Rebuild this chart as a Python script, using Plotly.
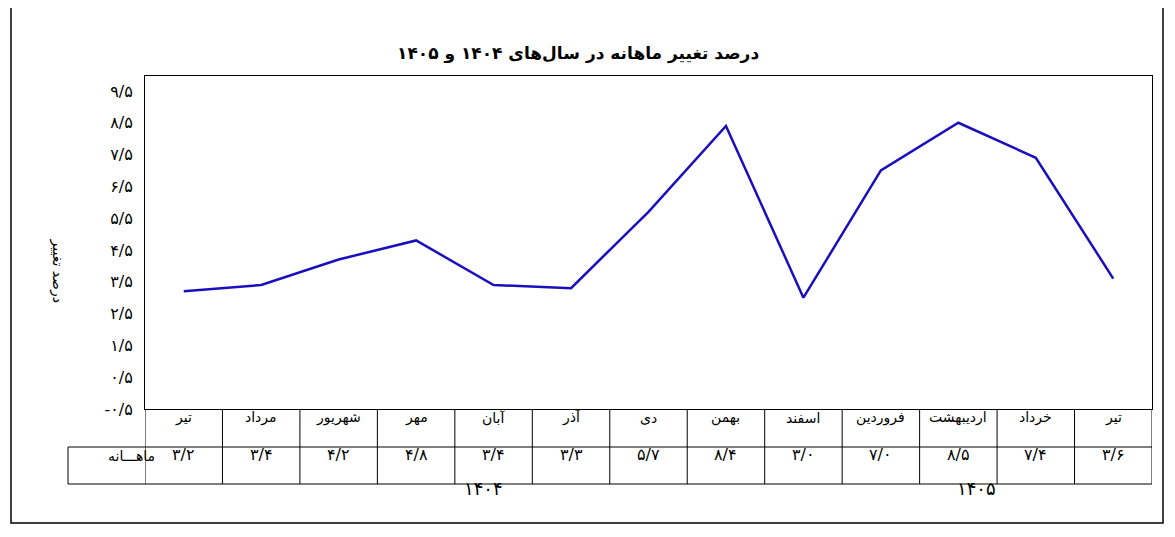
import plotly.graph_objects as go

months = ["تیر", "مرداد", "شهریور", "مهر", "آبان", "آذر", "دی", "بهمن", "اسفند",
          "فروردین", "اردیبهشت", "خرداد", "تیر"]
values = [3.2, 3.4, 4.2, 4.8, 3.4, 3.3, 5.7, 8.4, 3.0, 7.0, 8.5, 7.4, 3.6]
value_labels = ["۳/۲", "۳/۴", "۴/۲", "۴/۸", "۳/۴", "۳/۳", "۵/۷", "۸/۴", "۳/۰",
                "۷/۰", "۸/۵", "۷/۴", "۳/۶"]
tick_vals = [-0.5, 0.5, 1.5, 2.5, 3.5, 4.5, 5.5, 6.5, 7.5, 8.5, 9.5]
tick_text = ["-۰/۵", "۰/۵", "۱/۵", "۲/۵", "۳/۵", "۴/۵", "۵/۵", "۶/۵", "۷/۵", "۸/۵", "۹/۵"]
years = ["۱۴۰۴", "۱۴۰۵"]

W, H = 1175, 537
OX, OY = 8, 7  # page offset seen in render
L, R, T, B = 145 - OX, 1152 - OX, 75 - OY, 408 - OY
FONT = "DejaVu Sans"

def px(x):
    return (x - OX - L) / (R - L)

def py(y):
    return (B - (y - OY)) / (B - T)

xs = list(range(len(months)))
fig = go.Figure(go.Scatter(x=xs, y=values, mode="lines",
                           line=dict(color="#1a0fbf", width=2.5)))

shapes = []
line = dict(color="black", width=1)
shapes.append(dict(type="rect", xref="paper", yref="paper", x0=px(11), x1=px(1163),
                   y0=py(522), y1=py(6), line=dict(color="black", width=1.5)))
shapes.append(dict(type="line", xref="paper", yref="paper", x0=px(68), x1=1,
                   y0=py(446), y1=py(446), line=line))
shapes.append(dict(type="line", xref="paper", yref="paper", x0=px(68), x1=1,
                   y0=py(483), y1=py(483), line=line))
shapes.append(dict(type="line", xref="paper", yref="paper", x0=px(68), x1=px(68),
                   y0=py(446), y1=py(483), line=line))
for i in range(len(months) + 1):
    shapes.append(dict(type="line", xref="x", yref="paper", x0=i - 0.5, x1=i - 0.5,
                       y0=py(483), y1=0, line=line))

ann = []
for i, (m, v) in enumerate(zip(months, value_labels)):
    ann.append(dict(x=i, y=py(427), xref="x", yref="paper", text=m, showarrow=False,
                    font=dict(size=14, family=FONT)))
    ann.append(dict(x=i, y=py(465), xref="x", yref="paper", text=v, showarrow=False,
                    font=dict(size=16, family=FONT)))
ann.append(dict(x=px(106), y=py(465), xref="paper", yref="paper", text="ماهـــانه",
                showarrow=False, font=dict(size=14, family=FONT)))
ann.append(dict(x=px(483), y=py(500), xref="paper", yref="paper", text=years[0],
                showarrow=False, font=dict(size=18, family=FONT)))
ann.append(dict(x=px(998), y=py(500), xref="paper", yref="paper", text=years[1],
                showarrow=False, font=dict(size=18, family=FONT)))
ann.append(dict(x=px(47), y=py(270), xref="paper", yref="paper", text="درصد تغییر",
                textangle=90, showarrow=False, font=dict(size=14, family=FONT)))
ann.append(dict(x=px(578), y=py(40), xref="paper", yref="paper",
                text="<b>درصد تغییر ماهانه در سال‌های ۱۴۰۴ و ۱۴۰۵</b>",
                showarrow=False, font=dict(size=17, family=FONT)))

fig.update_layout(
    width=W, height=H, showlegend=False,
    margin=dict(l=L, r=W - R, t=T, b=H - B),
    plot_bgcolor="white", paper_bgcolor="white",
    shapes=shapes, annotations=ann,
    font=dict(family=FONT, color="black"),
)
fig.update_xaxes(range=[-0.5, 12.5], showticklabels=False, showgrid=False,
                 zeroline=False, showline=True, linecolor="black", mirror=True)
fig.update_yaxes(range=[-0.5, 9.97], tickvals=tick_vals, ticktext=tick_text,
                 showgrid=False, zeroline=False, showline=True, linecolor="black",
                 mirror=True, ticks="", tickfont=dict(size=16, family=FONT), ticklabelstandoff=8)

fig.write_html("out.html")
